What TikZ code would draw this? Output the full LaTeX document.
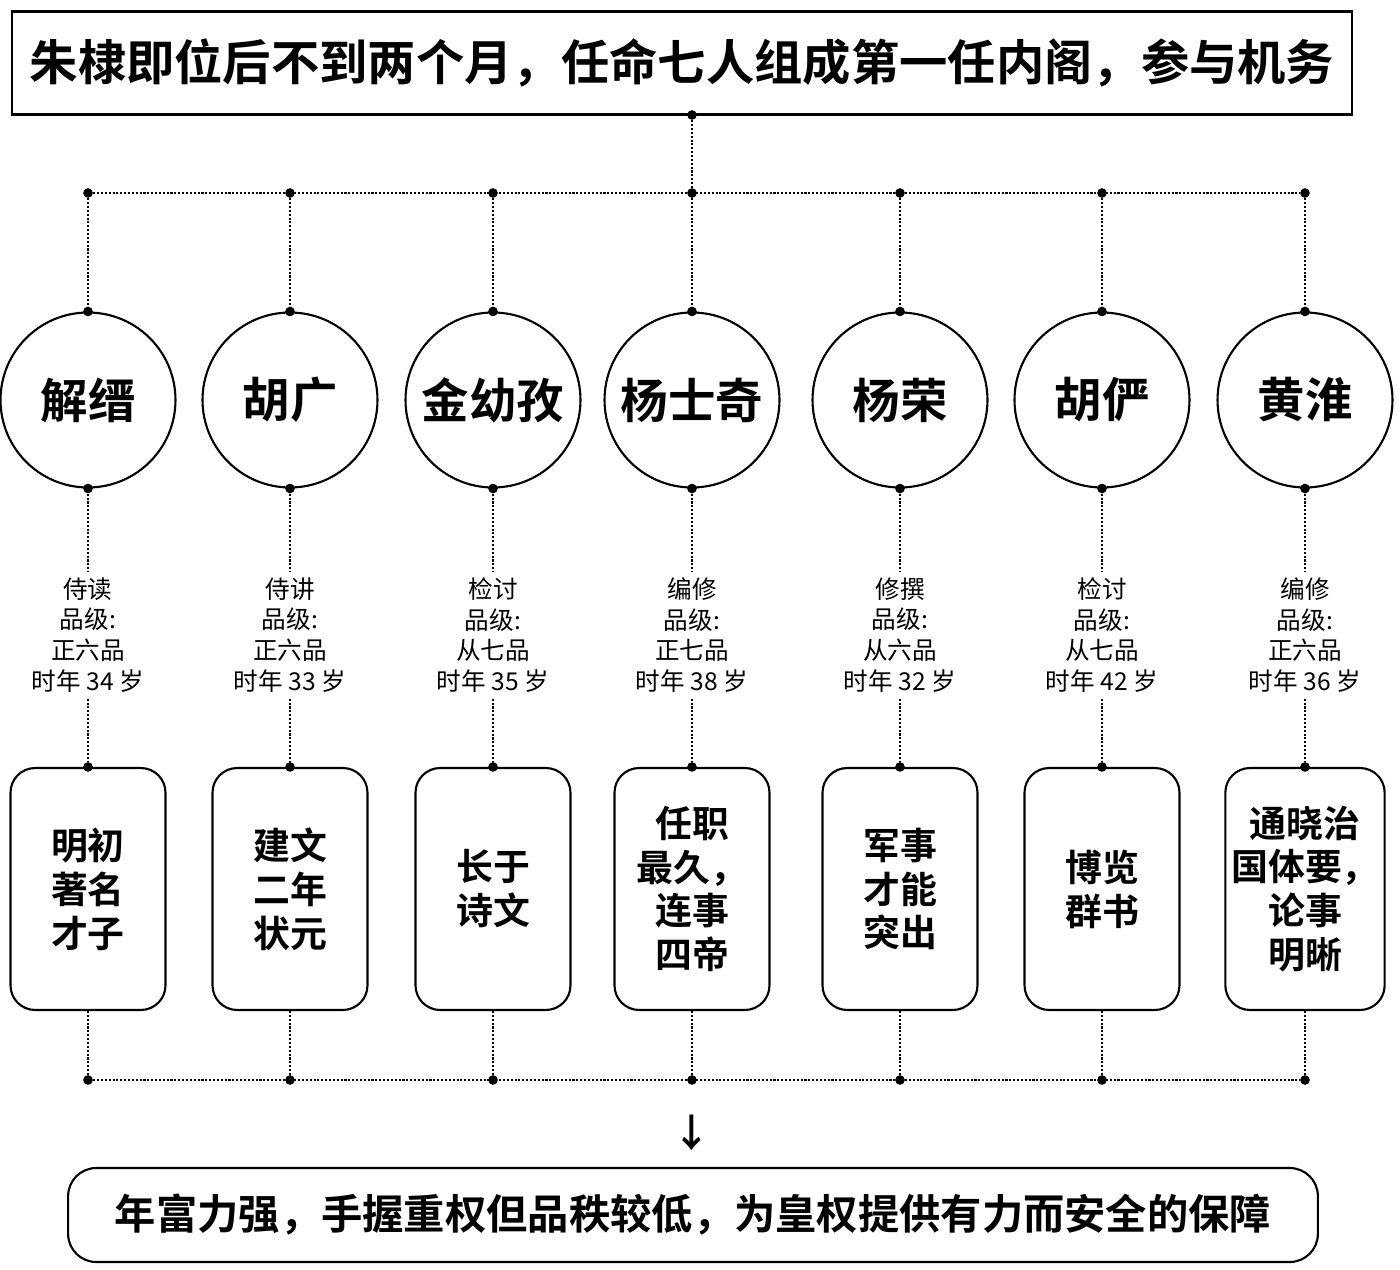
\documentclass[tikz,border=0pt]{standalone}
\usepackage{fontspec}
\setmainfont{Noto Sans CJK SC}
\newfontfamily\cjkbold{Noto Sans CJK SC Bold}
\usetikzlibrary{positioning}

\begin{document}
\begin{tikzpicture}[
x=0.02cm, y=-0.02cm,
dotline/.style={densely dotted, line width=1.2pt},
jdot/.style={circle, fill=black, inner sep=0pt, minimum size=5.5pt},
person/.style={draw, circle, line width=1.2pt, minimum size=3.5cm, inner sep=0pt,
  font=\cjkbold\fontsize{27}{30}\selectfont},
merit/.style={draw, rounded corners=14pt, line width=1.2pt, minimum width=3.1cm,
  minimum height=4.84cm, align=center, font=\cjkbold\fontsize{21}{25}\selectfont},
rank/.style={align=center, font=\fontsize{14}{17.5}\selectfont},
>=latex
]
\useasboundingbox (0,0) rectangle (1400,1270);
% title
\node[draw, line width=1.5pt, minimum width=26.8cm, minimum height=2.06cm,
  font=\cjkbold\fontsize{27.5}{30}\selectfont] (title) at (682,63)
  {朱棣即位后不到两个月，任命七人组成第一任内阁，参与机务};
\node[jdot] (tdot) at (692,115) {};
% columns
\foreach \x/\name/\post/\grade/\age/\merittext [count=\i] in {
  88/解缙/侍读/正六品/34/{明初\\著名\\才子},
  290/胡广/侍讲/正六品/33/{建文\\二年\\状元},
  493/金幼孜/检讨/从七品/35/{长于\\诗文},
  692/杨士奇/编修/正七品/38/{任职\\最久，\\连事\\四帝},
  900/杨荣/修撰/从六品/32/{军事\\才能\\突出},
  1102/胡俨/检讨/从七品/42/{博览\\群书},
  1305/黄淮/编修/正六品/36/{通晓治\\国体要，\\论事\\明晰}}
{
  \node[person] (p\i) at (\x,400) {\name};
  \node[jdot] (top\i) at (\x,193) {};
  \node[jdot] (pt\i) at (p\i.north) {};
  \node[jdot] (pb\i) at (p\i.south) {};
  \node[rank] (r\i) at (\x,635) {\post\\品级:\\\grade\\时年 \age{} 岁};
  \node[merit] (m\i) at (\x,889) {\merittext};
  \node[jdot] (mt\i) at (m\i.north) {};
  \node[jdot] (bot\i) at (\x,1080) {};
  \draw[dotline] (top\i) -- (pt\i);
  \draw[dotline] (pb\i) -- (r\i);
  \draw[dotline] (r\i) -- (mt\i);
  \draw[dotline] (m\i) -- (bot\i);
}
\draw[dotline] (tdot) -- (top4);
\draw[dotline] (top1) -- (top7);
\draw[dotline] (bot1) -- (bot7);
% conclusion
\node[font=\cjkbold\fontsize{22}{24}\selectfont] (arrow) at (692,1133) {↓};
\node[draw, rounded corners=16pt, line width=1.2pt, minimum width=25cm,
  minimum height=1.88cm, font=\cjkbold\fontsize{23.5}{26}\selectfont] (sum) at (693,1215)
  {年富力强，手握重权但品秩较低，为皇权提供有力而安全的保障};
\end{tikzpicture}
\end{document}
